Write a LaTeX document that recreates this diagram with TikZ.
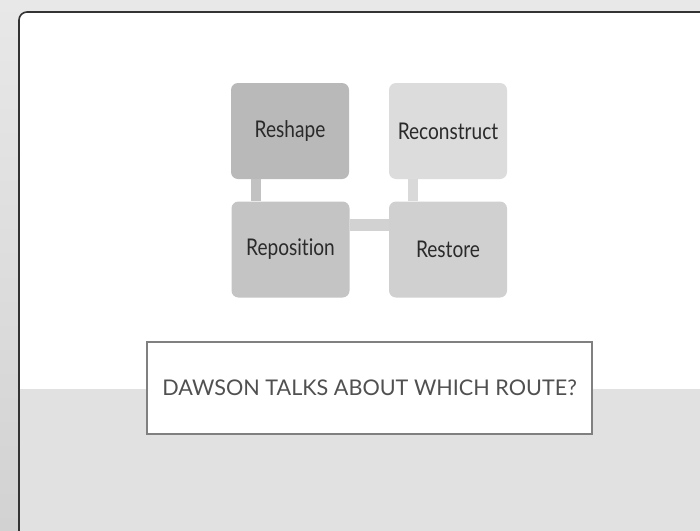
\documentclass[tikz,border=0pt]{standalone}
\usepackage{fontspec}
\newfontfamily\gill[FakeStretch=0.83,Ligatures=NoCommon]{Lato}
\newfontfamily\gillwide[Ligatures=NoCommon]{Lato}
\definecolor{outerbg}{HTML}{E8E8E8}
\definecolor{outerbgdark}{HTML}{D2D2D2}
\definecolor{band}{HTML}{E1E1E1}
\definecolor{frameline}{HTML}{333333}
\definecolor{cReshape}{HTML}{B9B9B9}
\definecolor{cReconstruct}{HTML}{DCDCDC}
\definecolor{cReposition}{HTML}{C4C4C4}
\definecolor{cRestore}{HTML}{D0D0D0}
\definecolor{lnLeft}{HTML}{C2C2C2}
\definecolor{lnRight}{HTML}{D9D9D9}
\definecolor{lnMid}{HTML}{D2D2D2}
\definecolor{labeltext}{HTML}{2A2A2A}
\definecolor{qtext}{HTML}{505050}
\definecolor{qborder}{HTML}{808080}
\tikzset{
  stepbox/.style={rounded corners=7pt, minimum width=118pt, minimum height=96pt,
    inner sep=0pt, text=labeltext, font=\gill\fontsize{23}{24}\selectfont},
  linkbar/.style={line width=10pt},
  qbox/.style={draw=qborder, line width=2pt, fill=white, minimum width=445pt,
    minimum height=92pt, inner sep=0pt, text=qtext, font=\gillwide\fontsize{21.6}{24}\selectfont}
}
\begin{document}
\begin{tikzpicture}[x=1pt,y=-1pt]
\useasboundingbox (0,0) rectangle (700,530);
\shade[top color=outerbg, bottom color=outerbgdark] (0,0) rectangle (700,530);
\fill[outerbg] (0,0) rectangle (700,12);
\begin{scope}
  \clip[rounded corners=8pt] (19,12) rectangle (730,560);
  \fill[white] (19,12) rectangle (730,560);
  \fill[band] (19,389) rectangle (730,560);
\end{scope}
\draw[frameline, line width=1.6pt, rounded corners=8pt] (19,12) rectangle (730,560);

\node[stepbox, fill=cReshape] (reshape) at (290,131) {Reshape};
\node[stepbox, fill=cReconstruct] (reconstruct) at (448,131) {Reconstruct};
\node[stepbox, fill=cReposition] (reposition) at (290.5,249.5) {Reposition};
\node[stepbox, fill=cRestore] (restore) at (448,249.5) {Restore};

\draw[linkbar, lnLeft] ([xshift=25pt]reshape.south west) -- ([xshift=24.5pt]reposition.north west);
\draw[linkbar, lnRight] ([xshift=24pt]reconstruct.south west) -- ([xshift=24pt]restore.north west);
\draw[linkbar, lnMid, line width=12pt] ([yshift=-24pt]reposition.north east) -- ([yshift=-24pt]restore.north west);

\node[qbox] (question) at (369.5,388) {DAWSON TALKS ABOUT WHICH ROUTE?};
\end{tikzpicture}
\end{document}
